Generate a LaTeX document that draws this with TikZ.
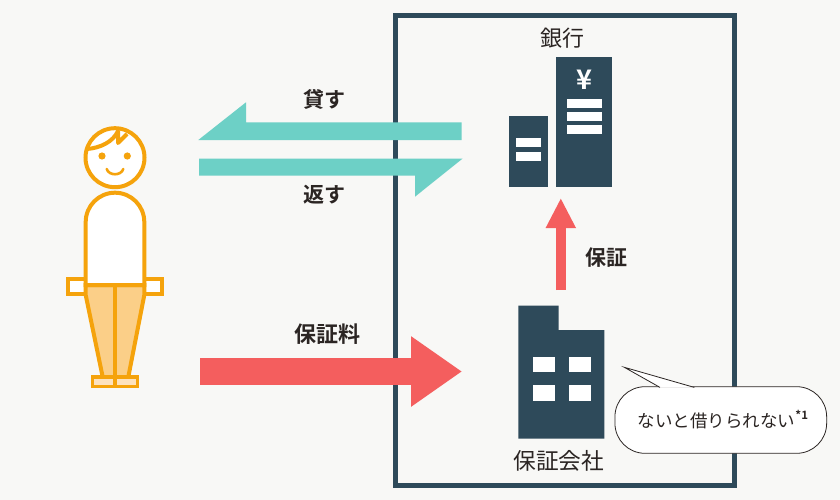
\documentclass[tikz,border=0pt]{standalone}
\usepackage{fontspec}
\setmainfont{Noto Sans CJK JP}[BoldFont={Noto Sans CJK JP Bold}]
\usetikzlibrary{arrows.meta,positioning,calc}
\definecolor{Paper}{HTML}{F8F8F6}
\definecolor{Slate}{HTML}{2E4A5A}
\definecolor{Mint}{HTML}{6DD0C6}
\definecolor{Coral}{HTML}{F45E5E}
\definecolor{Orange}{HTML}{F5A30C}
\definecolor{Trouser}{HTML}{FBCF88}
\definecolor{Sole}{HTML}{FDE2BE}
\definecolor{Ink}{HTML}{2B2523}
\tikzset{
  block/.style={fill=Slate,draw=none,inner sep=0pt,outer sep=0pt},
  pane/.style={fill=white,draw=none,inner sep=0pt,outer sep=0pt},
  figure/.style={draw=Orange,line width=4pt,line join=miter},
  redarr/.style={draw=Coral},
  tealarr/.style={fill=Mint,draw=none},
  boldlabel/.style={text=Ink,inner sep=0pt,font=\fontsize{21}{21}\selectfont\bfseries},
  plainlabel/.style={text=Ink,inner sep=0pt,font=\fontsize{22}{22}\selectfont},
  bubbleline/.style={draw=Ink,line width=0.8pt,fill=white}
}
\begin{document}
\begin{tikzpicture}[x=1pt,y=-1pt]
  \useasboundingbox (0,0) rectangle (840,500);
  \fill[Paper] (0,0) rectangle (840,500);
  % frame
  \draw[Slate,line width=5pt] (395.5,16) rectangle (734.5,485);
  % person
  \draw[figure,fill=white] (68.3,279) rectangle (85.7,294);
  \draw[figure,fill=white] (144.3,279) rectangle (162.3,294);
  \draw[figure,fill=Trouser] (85.7,285) -- (85.7,295) -- (102.7,377) -- (128.3,377) -- (144.3,295) -- (144.3,285) -- cycle;
  \draw[figure,line width=3.5pt,fill=Sole] (92.3,377) rectangle (137.7,386.7);
  \draw[figure] (115,285) -- (115,386.7);
  \draw[figure,fill=white] (85.7,285) -- (85.7,222) arc[start angle=180,end angle=360,x radius=29.3,y radius=29.3] -- (144.3,285) -- cycle;
  \draw[figure,fill=white] (115,157.7) circle[radius=29.5];
  \draw[figure,line join=round] (87,149) .. controls (100,148) and (113,142) .. (118,131) -- (118,143) -- (127,134);
  \fill[Orange] (102,156) circle[radius=3.6] (127.3,156) circle[radius=3.6];
  \draw[Orange,line width=2.6pt,line cap=round] (106.7,169) .. controls (109,176) and (121,176) .. (123.3,169);
  % bank
  \node[block,minimum width=56pt,minimum height=130pt] (bigbank) at (584,121.7) {};
  \node[block,minimum width=38.7pt,minimum height=70.7pt,left=8.3pt of bigbank.south west,anchor=south east] (smallbank) {};
  \node[pane,minimum width=34.4pt,minimum height=9pt] (winA) at (584.5,103.2) {};
  \node[pane,minimum width=34.4pt,minimum height=9pt,below=4pt of winA] (winB) {};
  \node[pane,minimum width=34.4pt,minimum height=9pt,below=4pt of winB] (winC) {};
  \node[pane,minimum width=24.7pt,minimum height=9pt] (winD) at (528.7,142.8) {};
  \node[pane,minimum width=24.7pt,minimum height=9pt,below=4.4pt of winD] (winE) {};
  \node[text=white,inner sep=0pt,font=\fontsize{27}{27}\selectfont\bfseries] (yen) at (584.3,79.5) {¥};
  \node[plainlabel] (banklabel) at (562.5,38) {銀行};
  % guarantee company
  \fill[Slate] (518.3,305.7) -- (558.7,305.7) -- (558.7,330) -- (604.3,330) -- (604.3,438.7) -- (518.3,438.7) -- cycle;
  \node[pane,minimum width=21.7pt,minimum height=15.6pt] (paneA) at (544.2,364.5) {};
  \node[pane,minimum width=21.7pt,minimum height=15.6pt,right=14.3pt of paneA] (paneB) {};
  \node[pane,minimum width=21.7pt,minimum height=15.6pt,below=12.7pt of paneA] (paneC) {};
  \node[pane,minimum width=21.7pt,minimum height=15.6pt,below=12.7pt of paneB] (paneD) {};
  \node[plainlabel,font=\fontsize{22.7}{22.7}\selectfont] (companylabel) at (558.7,460.7) {保証会社};
  % lend and repay
  \coordinate (lendtip) at (198.3,140);
  \coordinate (lendend) at (461.7,140);
  \coordinate (repaytail) at (199,158.5);
  \coordinate (repaytip) at (462.7,158.5);
  \fill[tealarr] (lendtip) -- (246,102.3) -- (246,122.3) -- (lendend |- 0,122.3) -- (lendend) -- cycle;
  \fill[tealarr] (repaytail) -- (repaytip) -- (415,196.7) -- (415,175.7) -- (repaytail |- 0,175.7) -- cycle;
  \node[boldlabel] (lendlabel) at (324,99) {貸す};
  \node[boldlabel] (repaylabel) at (324,195) {返す};
  % fee and guarantee
  \coordinate (feefrom) at (200,371.5);
  \coordinate (feeto) at (462,371.5);
  \coordinate (guarfrom) at (560.8,290);
  \coordinate (guarto) at (560.8,198);
  \draw[redarr,line width=27pt,-{Triangle[length=51pt,width=67pt]}] (feefrom) -- (feeto);
  \draw[redarr,line width=10pt,-{Triangle[length=30pt,width=28pt]}] (guarfrom) -- (guarto);
  \node[boldlabel,font=\fontsize{22}{22}\selectfont\bfseries] (feelabel) at (327,334) {保証料};
  \node[boldlabel] (guarlabel) at (606,258) {保証};
  % bubble
  \node[bubbleline,rounded corners=30pt,minimum width=211.7pt,minimum height=66.6pt,inner sep=0pt] (bubble) at (720.8,420) {};
  \coordinate (tailtip) at (624.3,367.3);
  \draw[bubbleline] (660,387.4) -- (tailtip) -- (694.3,387.4);
  \node[text=Ink,inner sep=0pt,font=\fontsize{17.5}{17.5}\selectfont] (bubbletext) at (723,420) {ないと借りられない\raisebox{8pt}{\fontsize{11.5}{11.5}\selectfont\bfseries *1}};
\end{tikzpicture}
\end{document}
